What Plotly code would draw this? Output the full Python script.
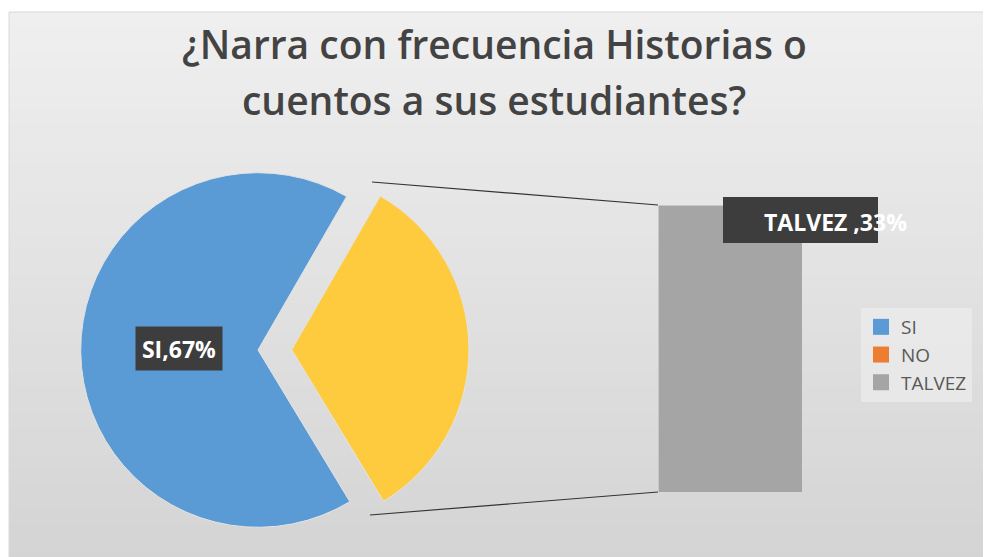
import plotly.graph_objects as go

# data
categories = ["SI", "NO", "TALVEZ"]
values = [67, 0, 33]
colors = ["#5B9BD5", "#ED7D31", "#A5A5A5"]
other_color = "#FECB3E"

W, H = 991, 557
OFF = 8  # page body margin


def px(x):
    return (x - OFF) / W


def py(y):
    return 1 - (y - OFF) / H


fig = go.Figure()

# pie: SI against the "other" group (NO + TALVEZ), which is exploded to the right
other_total = sum(values[1:])
cx, cy, half = 258, 350, 211
fig.add_trace(go.Pie(
    labels=["Otro", categories[0]],
    values=[other_total, values[0]],
    marker=dict(colors=[other_color, colors[0]],
                line=dict(color="#e4e4e4", width=1)),
    sort=False,
    direction="clockwise",
    rotation=30,
    pull=[0.19, 0],
    textinfo="none",
    hoverinfo="label+percent",
    showlegend=False,
    domain=dict(x=[px(cx - half), px(cx + half)], y=[py(cy + half), py(cy - half)]),
))

# bar of the "other" group, stacked (SI is not part of it)
for name, val, col in zip(categories[1:], values[1:], colors[1:]):
    fig.add_trace(go.Bar(
        name=name, x=["Otro"], y=[val], marker_color=col,
        width=1, showlegend=False,
    ))

# legend entries with larger square swatches
for name, col in zip(categories, colors):
    fig.add_trace(go.Scatter(
        name=name, x=[None], y=[None], mode="markers",
        marker=dict(symbol="square", size=16, color=col),
        legendgroup=name,
    ))

fig.update_xaxes(domain=[px(658), px(802)], range=[-0.5, 0.5], visible=False)
fig.update_yaxes(domain=[py(492), py(205)], range=[0, other_total], visible=False)

# gradient background of the chart area
shapes = []
n = 40
top, bottom = 12, H + OFF
c0, c1 = (239, 239, 239), (212, 212, 212)
for i in range(n):
    t = i / (n - 1)
    c = tuple(round(a + (b - a) * t) for a, b in zip(c0, c1))
    y0 = top + (bottom - top) * i / n
    y1 = top + (bottom - top) * (i + 1) / n + 1
    shapes.append(dict(type="rect", xref="paper", yref="paper",
                       x0=px(9), x1=1.02, y0=py(y1), y1=py(y0),
                       fillcolor="rgb(%d,%d,%d)" % c, line_width=0, layer="below"))
shapes.append(dict(type="rect", xref="paper", yref="paper",
                   x0=px(9), x1=1.02, y0=-0.02, y1=py(12),
                   line=dict(color="#d9d9d9", width=1), layer="below"))

# connector lines
shapes.append(dict(type="line", xref="paper", yref="paper",
                   x0=px(372), y0=py(182), x1=px(658), y1=py(205),
                   line=dict(color="#333333", width=1.2)))
shapes.append(dict(type="line", xref="paper", yref="paper",
                   x0=px(370), y0=py(515), x1=px(658), y1=py(492),
                   line=dict(color="#333333", width=1.2)))

# label box for TALVEZ
shapes.append(dict(type="rect", xref="paper", yref="paper",
                   x0=px(723), x1=px(878), y0=py(243), y1=py(197),
                   fillcolor="#3d3d3d", line_width=0))

title_font = dict(family="Open Sans, sans-serif", size=39, color="#434343",
                  weight=600)
label_font = dict(family="Open Sans, sans-serif", size=23, color="white")
annotations = [
    dict(text="¿Narra con frecuencia Historias o", x=px(494), y=py(43),
         font=title_font),
    dict(text="cuentos a sus estudiantes?", x=px(494), y=py(99),
         font=title_font),
    dict(text="<b>SI,67%</b>", x=px(179), y=py(348), bgcolor="#3d3d3d",
         width=80, height=37, borderpad=3, font=label_font, xanchor="center"),
    dict(text="<b>TALVEZ ,33%</b>", x=px(762), y=py(222), xanchor="left",
         font=label_font),
]
for a in annotations:
    a.update(xref="paper", yref="paper", showarrow=False, yanchor="middle")
    a.setdefault("xanchor", "center")

fig.update_layout(
    width=W, height=H,
    margin=dict(l=0, r=0, t=0, b=0),
    paper_bgcolor="white",
    plot_bgcolor="rgba(0,0,0,0)",
    barmode="stack",
    shapes=shapes,
    annotations=annotations,
    font=dict(family="Open Sans, sans-serif", color="#595959"),
    legend=dict(x=px(861), y=py(308), xanchor="left", yanchor="top",
                traceorder="normal", bgcolor="rgba(236,236,236,0.7)",
                font=dict(size=19, color="#595959"), itemwidth=30,
                tracegroupgap=2),
)

fig.write_html("out.html")
